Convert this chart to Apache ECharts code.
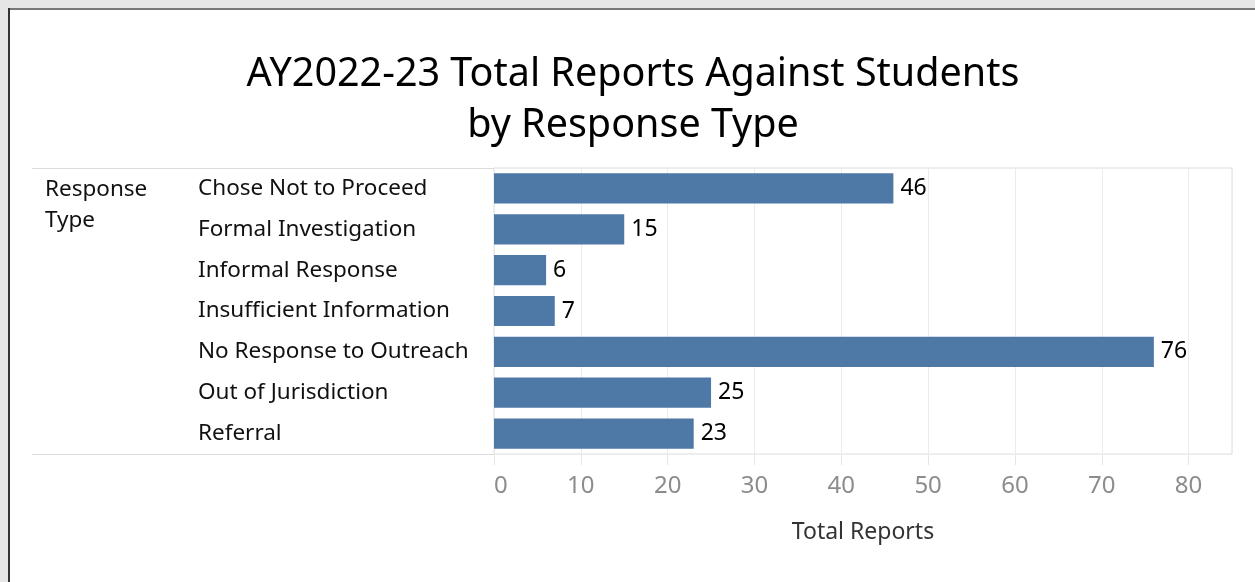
<!DOCTYPE html>
<html><head><meta charset="utf-8">
<script src="https://cdn.jsdelivr.net/npm/echarts@6/dist/echarts.min.js"></script>
<style>html,body{margin:0;padding:0;background:#fff}#c{width:1255px;height:582px}</style>
</head><body><div id="c"></div>
<script>
const categories = ["Chose Not to Proceed","Formal Investigation","Informal Response","Insufficient Information","No Response to Outreach","Out of Jurisdiction","Referral"];
const totalReports = [46,15,6,7,76,25,23];
const xTicks = [0,10,20,30,40,50,60,70,80];
const titleLines = ["AY2022-23 Total Reports Against Students","by Response Type"];
const FONT = '"Noto Sans", "Open Sans", sans-serif';

const chart = echarts.init(document.getElementById('c'), null, {renderer:'canvas'});
chart.setOption({
  animation:false,
  backgroundColor:'#fff',
  textStyle:{fontFamily:FONT},
  title:{
    text: titleLines.join('\n'),
    left: 628, top: 44, textAlign:'center',
    textStyle:{fontFamily:FONT, fontSize:39.5, fontWeight:'normal', color:'#000', lineHeight:51}
  },
  grid:{left:494, right:23, top:168, bottom:128, show:true, borderColor:'#dcdcdc', borderWidth:1, containLabel:false},
  xAxis:{
    type:'value', min:0, max:85, interval:10,
    name:'Total Reports', nameLocation:'middle', nameGap:67,
    nameTextStyle:{fontFamily:FONT, fontSize:23, color:'#333'},
    axisLine:{show:false},
    axisTick:{show:true, length:11, lineStyle:{color:'#e6e6e6'}},
    splitLine:{show:true, lineStyle:{color:'#ebebeb', width:1}},
    axisLabel:{fontFamily:FONT, fontSize:24, color:'#8c8c8c', margin:20, alignMinLabel:'left',
      formatter: v => xTicks.includes(v) ? String(v) : '', showMaxLabel:false}
  },
  yAxis:{
    type:'category', data:categories, inverse:true,
    axisLine:{show:false}, axisTick:{show:false},
    axisLabel:{align:'left', margin:296, fontFamily:FONT, fontSize:22.5, color:'#111'}
  },
  series:[{
    type:'bar', data:totalReports, barCategoryGap:'26%',
    itemStyle:{color:'#4e79a7'},
    label:{show:true, position:'right', distance:7, fontFamily:FONT, fontSize:23, color:'#000'}
  }],
  graphic:[
    {type:'rect', shape:{x:0,y:0,width:1255,height:8}, style:{fill:'#e6e6e6'}, silent:true},
    {type:'rect', shape:{x:0,y:0,width:8,height:582}, style:{fill:'#e6e6e6'}, silent:true},
    {type:'rect', shape:{x:8,y:8,width:1247,height:2}, style:{fill:'#777'}, silent:true},
    {type:'rect', shape:{x:8,y:8,width:2,height:574}, style:{fill:'#333'}, silent:true},
    {type:'line', shape:{x1:32,y1:168.5,x2:494,y2:168.5}, style:{stroke:'#dcdcdc', lineWidth:1}, silent:true},
    {type:'line', shape:{x1:32,y1:454.5,x2:494,y2:454.5}, style:{stroke:'#dcdcdc', lineWidth:1}, silent:true},
    {type:'text', left:45, top:174, style:{text:'Response\nType', font:'22.5px '+FONT, fill:'#111', lineHeight:31}}
  ]
});
</script></body></html>
